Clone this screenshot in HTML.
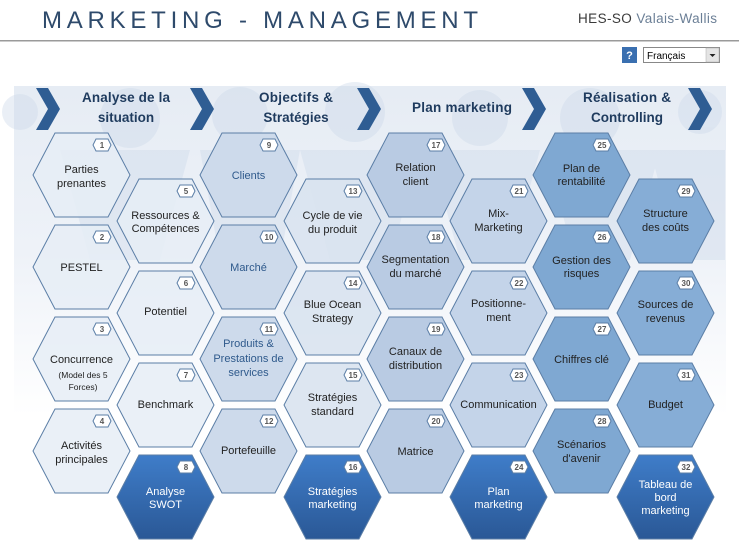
<!DOCTYPE html>
<html><head><meta charset="utf-8"><style>
html,body{margin:0;padding:0;background:#fff;width:739px;height:551px;overflow:hidden}
svg{display:block;font-family:"Liberation Sans",sans-serif}
</style></head><body>
<svg width="739" height="551" viewBox="0 0 739 551" xmlns="http://www.w3.org/2000/svg">
<defs>
<polygon id="h" points="22,0 75,0 97,42 75,84 22,84 0,42"/>
<polygon id="b" points="63,6 75,6 78,12 75,18 63,18 60,12" fill="#fff" stroke="#5b7ea6" stroke-width="1"/>
<linearGradient id="dg" x1="0" y1="0" x2="0" y2="1"><stop offset="0" stop-color="#3f7dc9"/><stop offset="1" stop-color="#2a5896"/></linearGradient>
<linearGradient id="bg" x1="0" y1="0" x2="0" y2="1"><stop offset="0" stop-color="#e6ecf4"/><stop offset="0.5" stop-color="#eef2f8"/><stop offset="1" stop-color="#ffffff"/></linearGradient>
</defs>
<!-- header -->
<text x="42" y="28" font-size="24" textLength="436" lengthAdjust="spacing" fill="#2e4a6b">MARKETING - MANAGEMENT</text>
<text x="578" y="23" font-size="13.5" textLength="139" fill="#3a3a3a">HES-SO <tspan fill="#6b7f96">Valais-Wallis</tspan></text>
<rect x="0" y="40" width="739" height="1.5" fill="#9a9a9a"/>
<rect x="622" y="47" width="15" height="16" fill="#3a6fb0"/>
<text x="629.5" y="59" font-size="11" font-weight="bold" fill="#fff" text-anchor="middle">?</text>
<rect x="643.5" y="47.5" width="76" height="15" fill="#fff" stroke="#888"/>
<text x="647" y="59" font-size="10" fill="#000">Français</text>
<rect x="706" y="48" width="13" height="14" fill="#e4e4e4" stroke="#aaa" stroke-width="0.5"/>
<polygon points="709.5,54 715.5,54 712.5,57" fill="#222"/>
<!-- background -->
<rect x="14" y="86" width="712" height="330" fill="url(#bg)"/>
<g fill="#ccd9ea" opacity="0.4">
<circle cx="130" cy="118" r="30"/><circle cx="240" cy="115" r="28"/><circle cx="355" cy="112" r="30"/><circle cx="480" cy="118" r="28"/><circle cx="590" cy="118" r="30"/><circle cx="700" cy="112" r="22"/><circle cx="20" cy="112" r="18"/>
<polygon points="60,150 190,150 160,260 90,260"/><polygon points="200,150 300,150 280,260 220,260"/><polygon points="300,150 420,150 390,260 330,260"/><polygon points="430,150 540,150 510,260 460,260"/><polygon points="545,150 660,150 630,260 575,260"/><polygon points="650,150 725,150 725,260 680,260"/>
</g>
<!-- chevrons -->
<g fill="#2f5d93">
<polygon points="36,88 48,88 60,109 48,130 36,130 48,109"/>
<polygon points="190,88 202,88 214,109 202,130 190,130 202,109"/>
<polygon points="357,88 369,88 381,109 369,130 357,130 369,109"/>
<polygon points="522,88 534,88 546,109 534,130 522,130 534,109"/>
<polygon points="688,88 700,88 712,109 700,130 688,130 700,109"/>
</g>
<g font-size="13.5" font-weight="bold" fill="#1f3b5e" text-anchor="middle">
<text x="126" y="102" textLength="88">Analyse de la</text><text x="126" y="122">situation</text>
<text x="296" y="102" textLength="74">Objectifs &amp;</text><text x="296" y="122">Stratégies</text>
<text x="462" y="112" textLength="100">Plan marketing</text>
<text x="627" y="102" textLength="88">Réalisation &amp;</text><text x="627" y="122">Controlling</text>
</g>
<g stroke="#5b7ea6" stroke-width="1" font-size="11" text-anchor="middle">
<!-- col1 -->
<g transform="translate(33,133)"><use href="#h" fill="#e6edf6" fill-opacity="0.85"/><use href="#b"/><text x="69" y="15" font-size="8" font-weight="bold" fill="#555" stroke="none">1</text><text x="48.5" y="40" fill="#222" stroke="none">Parties</text><text x="48.5" y="54" fill="#222" stroke="none">prenantes</text></g>
<g transform="translate(33,225)"><use href="#h" fill="#e6edf6" fill-opacity="0.85"/><use href="#b"/><text x="69" y="15" font-size="8" font-weight="bold" fill="#555" stroke="none">2</text><text x="48.5" y="46" fill="#222" stroke="none">PESTEL</text></g>
<g transform="translate(33,317)"><use href="#h" fill="#e6edf6" fill-opacity="0.85"/><use href="#b"/><text x="69" y="15" font-size="8" font-weight="bold" fill="#555" stroke="none">3</text><text x="48.5" y="46" fill="#222" stroke="none">Concurrence</text><text x="50" y="61" font-size="8.5" fill="#222" stroke="none">(Model des 5</text><text x="50" y="73" font-size="8.5" fill="#222" stroke="none">Forces)</text></g>
<g transform="translate(33,409)"><use href="#h" fill="#e6edf6" fill-opacity="0.85"/><use href="#b"/><text x="69" y="15" font-size="8" font-weight="bold" fill="#555" stroke="none">4</text><text x="48.5" y="40" fill="#222" stroke="none">Activités</text><text x="48.5" y="54" fill="#222" stroke="none">principales</text></g>
<!-- col2 -->
<g transform="translate(117,179)"><use href="#h" fill="#e6edf6" fill-opacity="0.85"/><use href="#b"/><text x="69" y="15" font-size="8" font-weight="bold" fill="#555" stroke="none">5</text><text x="48.5" y="40" fill="#222" stroke="none">Ressources &amp;</text><text x="48.5" y="53" fill="#222" stroke="none">Compétences</text></g>
<g transform="translate(117,271)"><use href="#h" fill="#e6edf6" fill-opacity="0.85"/><use href="#b"/><text x="69" y="15" font-size="8" font-weight="bold" fill="#555" stroke="none">6</text><text x="48.5" y="44" fill="#222" stroke="none">Potentiel</text></g>
<g transform="translate(117,363)"><use href="#h" fill="#e6edf6" fill-opacity="0.85"/><use href="#b"/><text x="69" y="15" font-size="8" font-weight="bold" fill="#555" stroke="none">7</text><text x="48.5" y="45" fill="#222" stroke="none">Benchmark</text></g>
<g transform="translate(117,455)"><use href="#h" fill="url(#dg)"/><use href="#b"/><text x="69" y="15" font-size="8" font-weight="bold" fill="#555" stroke="none">8</text><text x="48.5" y="40" fill="#fff" stroke="none">Analyse</text><text x="48.5" y="53" fill="#fff" stroke="none">SWOT</text></g>
<!-- col3 -->
<g transform="translate(200,133)"><use href="#h" fill="#cddaeb"/><use href="#b"/><text x="69" y="15" font-size="8" font-weight="bold" fill="#555" stroke="none">9</text><text x="48.5" y="46" fill="#2f5a8c" stroke="none">Clients</text></g>
<g transform="translate(200,225)"><use href="#h" fill="#cddaeb"/><use href="#b"/><text x="69" y="15" font-size="8" font-weight="bold" fill="#555" stroke="none">10</text><text x="48.5" y="46" fill="#2f5a8c" stroke="none">Marché</text></g>
<g transform="translate(200,317)"><use href="#h" fill="#cddaeb"/><use href="#b"/><text x="69" y="15" font-size="8" font-weight="bold" fill="#555" stroke="none">11</text><text x="48.5" y="30" fill="#2f5a8c" stroke="none">Produits &amp;</text><text x="48.5" y="45" fill="#2f5a8c" stroke="none">Prestations de</text><text x="48.5" y="59" fill="#2f5a8c" stroke="none">services</text></g>
<g transform="translate(200,409)"><use href="#h" fill="#cddaeb"/><use href="#b"/><text x="69" y="15" font-size="8" font-weight="bold" fill="#555" stroke="none">12</text><text x="48.5" y="45" fill="#222" stroke="none">Portefeuille</text></g>
<!-- col4 -->
<g transform="translate(284,179)"><use href="#h" fill="#d9e3f0" fill-opacity="0.9"/><use href="#b"/><text x="69" y="15" font-size="8" font-weight="bold" fill="#555" stroke="none">13</text><text x="48.5" y="40" fill="#222" stroke="none">Cycle de vie</text><text x="48.5" y="54" fill="#222" stroke="none">du produit</text></g>
<g transform="translate(284,271)"><use href="#h" fill="#d9e3f0" fill-opacity="0.9"/><use href="#b"/><text x="69" y="15" font-size="8" font-weight="bold" fill="#555" stroke="none">14</text><text x="48.5" y="37" fill="#222" stroke="none">Blue Ocean</text><text x="48.5" y="51" fill="#222" stroke="none">Strategy</text></g>
<g transform="translate(284,363)"><use href="#h" fill="#d9e3f0" fill-opacity="0.9"/><use href="#b"/><text x="69" y="15" font-size="8" font-weight="bold" fill="#555" stroke="none">15</text><text x="48.5" y="38" fill="#222" stroke="none">Stratégies</text><text x="48.5" y="52" fill="#222" stroke="none">standard</text></g>
<g transform="translate(284,455)"><use href="#h" fill="url(#dg)"/><use href="#b"/><text x="69" y="15" font-size="8" font-weight="bold" fill="#555" stroke="none">16</text><text x="48.5" y="40" fill="#fff" stroke="none">Stratégies</text><text x="48.5" y="53" fill="#fff" stroke="none">marketing</text></g>
<!-- col5 -->
<g transform="translate(367,133)"><use href="#h" fill="#b9cbe3"/><use href="#b"/><text x="69" y="15" font-size="8" font-weight="bold" fill="#555" stroke="none">17</text><text x="48.5" y="38" fill="#222" stroke="none">Relation</text><text x="48.5" y="52" fill="#222" stroke="none">client</text></g>
<g transform="translate(367,225)"><use href="#h" fill="#b9cbe3"/><use href="#b"/><text x="69" y="15" font-size="8" font-weight="bold" fill="#555" stroke="none">18</text><text x="48.5" y="38" fill="#222" stroke="none">Segmentation</text><text x="48.5" y="52" fill="#222" stroke="none">du marché</text></g>
<g transform="translate(367,317)"><use href="#h" fill="#b9cbe3"/><use href="#b"/><text x="69" y="15" font-size="8" font-weight="bold" fill="#555" stroke="none">19</text><text x="48.5" y="38" fill="#222" stroke="none">Canaux de</text><text x="48.5" y="52" fill="#222" stroke="none">distribution</text></g>
<g transform="translate(367,409)"><use href="#h" fill="#b9cbe3"/><use href="#b"/><text x="69" y="15" font-size="8" font-weight="bold" fill="#555" stroke="none">20</text><text x="48.5" y="46" fill="#222" stroke="none">Matrice</text></g>
<!-- col6 -->
<g transform="translate(450,179)"><use href="#h" fill="#c4d4e9"/><use href="#b"/><text x="69" y="15" font-size="8" font-weight="bold" fill="#555" stroke="none">21</text><text x="48.5" y="38" fill="#222" stroke="none">Mix-</text><text x="48.5" y="52" fill="#222" stroke="none">Marketing</text></g>
<g transform="translate(450,271)"><use href="#h" fill="#c4d4e9"/><use href="#b"/><text x="69" y="15" font-size="8" font-weight="bold" fill="#555" stroke="none">22</text><text x="48.5" y="36" fill="#222" stroke="none">Positionne-</text><text x="48.5" y="50" fill="#222" stroke="none">ment</text></g>
<g transform="translate(450,363)"><use href="#h" fill="#c4d4e9"/><use href="#b"/><text x="69" y="15" font-size="8" font-weight="bold" fill="#555" stroke="none">23</text><text x="48.5" y="45" fill="#222" stroke="none">Communication</text></g>
<g transform="translate(450,455)"><use href="#h" fill="url(#dg)"/><use href="#b"/><text x="69" y="15" font-size="8" font-weight="bold" fill="#555" stroke="none">24</text><text x="48.5" y="40" fill="#fff" stroke="none">Plan</text><text x="48.5" y="53" fill="#fff" stroke="none">marketing</text></g>
<!-- col7 -->
<g transform="translate(533,133)"><use href="#h" fill="#7fa8d2"/><use href="#b"/><text x="69" y="15" font-size="8" font-weight="bold" fill="#555" stroke="none">25</text><text x="48.5" y="39" fill="#222" stroke="none">Plan de</text><text x="48.5" y="52" fill="#222" stroke="none">rentabilité</text></g>
<g transform="translate(533,225)"><use href="#h" fill="#7fa8d2"/><use href="#b"/><text x="69" y="15" font-size="8" font-weight="bold" fill="#555" stroke="none">26</text><text x="48.5" y="39" fill="#222" stroke="none">Gestion des</text><text x="48.5" y="52" fill="#222" stroke="none">risques</text></g>
<g transform="translate(533,317)"><use href="#h" fill="#7fa8d2"/><use href="#b"/><text x="69" y="15" font-size="8" font-weight="bold" fill="#555" stroke="none">27</text><text x="48.5" y="46" fill="#222" stroke="none">Chiffres clé</text></g>
<g transform="translate(533,409)"><use href="#h" fill="#7fa8d2"/><use href="#b"/><text x="69" y="15" font-size="8" font-weight="bold" fill="#555" stroke="none">28</text><text x="48.5" y="39" fill="#222" stroke="none">Scénarios</text><text x="48.5" y="53" fill="#222" stroke="none">d'avenir</text></g>
<!-- col8 -->
<g transform="translate(617,179)"><use href="#h" fill="#86add6"/><use href="#b"/><text x="69" y="15" font-size="8" font-weight="bold" fill="#555" stroke="none">29</text><text x="48.5" y="38" fill="#222" stroke="none">Structure</text><text x="48.5" y="52" fill="#222" stroke="none">des coûts</text></g>
<g transform="translate(617,271)"><use href="#h" fill="#86add6"/><use href="#b"/><text x="69" y="15" font-size="8" font-weight="bold" fill="#555" stroke="none">30</text><text x="48.5" y="37" fill="#222" stroke="none">Sources de</text><text x="48.5" y="51" fill="#222" stroke="none">revenus</text></g>
<g transform="translate(617,363)"><use href="#h" fill="#86add6"/><use href="#b"/><text x="69" y="15" font-size="8" font-weight="bold" fill="#555" stroke="none">31</text><text x="48.5" y="45" fill="#222" stroke="none">Budget</text></g>
<g transform="translate(617,455)"><use href="#h" fill="url(#dg)"/><use href="#b"/><text x="69" y="15" font-size="8" font-weight="bold" fill="#555" stroke="none">32</text><text x="48.5" y="33" fill="#fff" stroke="none">Tableau de</text><text x="48.5" y="46" fill="#fff" stroke="none">bord</text><text x="48.5" y="59" fill="#fff" stroke="none">marketing</text></g>
</g>
</svg>
</body></html>
